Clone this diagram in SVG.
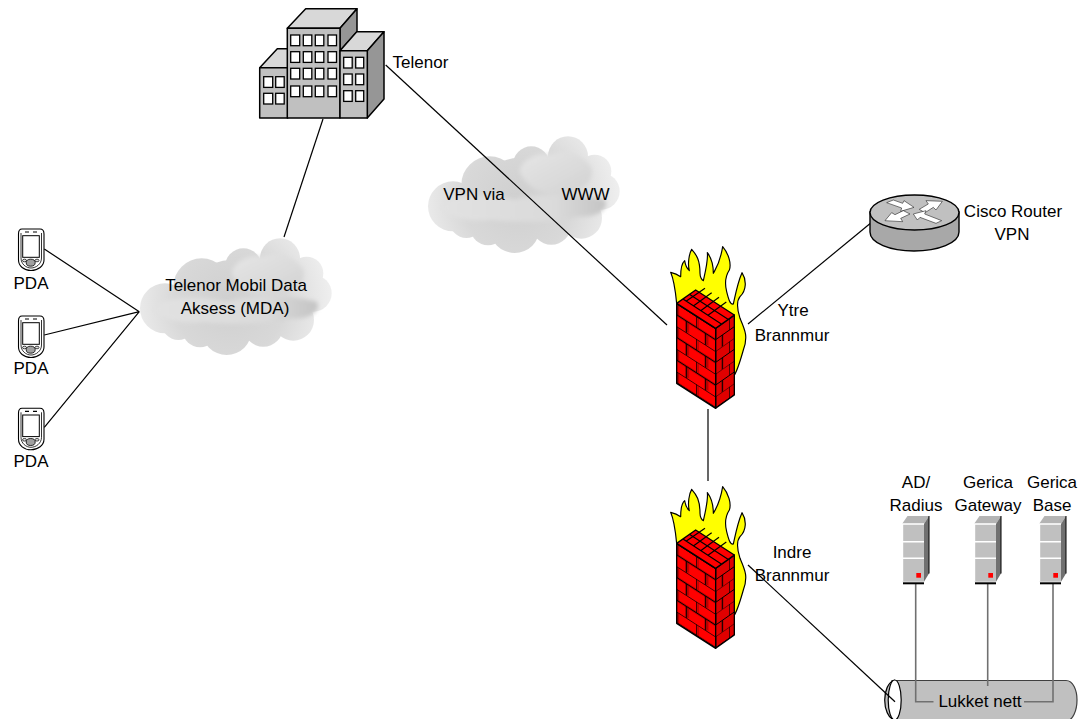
<svg xmlns="http://www.w3.org/2000/svg" width="1083" height="719" viewBox="0 0 1083 719">
<style>
text{font-family:"Liberation Sans",Arial,sans-serif;font-size:17px;fill:#000;text-anchor:middle}
.c{fill:none;stroke:#000;stroke-width:1.2}
.g{fill:none;stroke:#707070;stroke-width:1.6}
.k{stroke:#000;stroke-width:1.5;stroke-linejoin:round}
.w{fill:#fff;stroke:#000;stroke-width:1.3}
</style>
<defs>
<radialGradient id="cg" gradientUnits="userSpaceOnUse" cx="300" cy="215" r="300"><stop offset="0" stop-color="#cfcfcf"/><stop offset=".55" stop-color="#d8d8d8"/><stop offset="1" stop-color="#eeeeee"/></radialGradient>
<linearGradient id="cu" x1="0" y1="0" x2="1" y2="1"><stop offset="0" stop-color="#e6e6e6"/><stop offset="1" stop-color="#d2d2d2"/></linearGradient>
<linearGradient id="cl" x1="0" y1="0" x2="1" y2="0"><stop offset="0" stop-color="#e2e2e2"/><stop offset=".7" stop-color="#dadada"/><stop offset="1" stop-color="#c4c4c4"/></linearGradient>
<filter id="b" x="-20%" y="-20%" width="140%" height="140%"><feGaussianBlur stdDeviation="6"/></filter>
<g id="cloud" transform="translate(130,230) scale(.33333)">
<g fill="url(#cg)"><circle cx="105" cy="235" r="75"/><circle cx="215" cy="170" r="85"/><circle cx="340" cy="110" r="55"/><circle cx="450" cy="85" r="60"/><circle cx="530" cy="130" r="50"/><circle cx="550" cy="190" r="55"/><circle cx="490" cy="270" r="62"/><circle cx="290" cy="300" r="75"/><circle cx="145" cy="280" r="50"/><circle cx="210" cy="300" r="52"/><circle cx="400" cy="290" r="60"/><circle cx="300" cy="200" r="110"/><circle cx="430" cy="190" r="90"/></g>
<g filter="url(#b)"><path fill="url(#cu)" d="M305,130C310,95 360,70 400,80C440,60 500,85 520,120C530,160 490,190 440,190C390,205 330,190 305,130Z"/>
<path fill="url(#cl)" d="M65,235C100,200 200,195 290,215C340,200 460,190 560,215C575,240 540,270 480,265C400,285 300,285 220,275C150,285 80,265 65,235Z"/></g>
</g>
<pattern id="bl" patternUnits="userSpaceOnUse" width="58" height="68" patternTransform="skewY(32.7) translate(80,139)"><rect width="58" height="68" fill="#f00"/><path d="M0,0H58M0,34H58M0,0V34M29,34V68" stroke="#000" stroke-width="4" fill="none"/><path d="M6,2V32M35,36V66" stroke="#900" stroke-width="3"/></pattern>
<pattern id="br" patternUnits="userSpaceOnUse" width="40" height="68" patternTransform="skewY(-35) translate(197,403)"><rect width="40" height="68" fill="#e00000"/><path d="M0,0H40M0,34H40M0,0V34M20,34V68" stroke="#000" stroke-width="3.5" fill="none"/></pattern>
<g id="fw" transform="translate(650,240) scale(.33333)">
<path fill="#ff0" stroke="#000" stroke-width="3.5" stroke-linejoin="round" d="M80,190C76,150 72,120 62,97C75,100 85,105 92,110C92,90 95,70 104,62C106,75 110,85 118,92C112,70 118,40 125,28C140,45 150,60 150,100C150,110 155,120 160,122C165,100 175,60 172,38C185,55 190,75 190,100C198,85 210,70 218,20C235,40 245,70 238,90C225,110 225,135 230,155C235,175 240,195 250,192C255,170 262,130 276,98C290,120 290,150 270,170C258,185 262,210 270,235C285,270 295,290 280,330C270,365 262,395 250,410L80,300Z"/>
<path fill="url(#bl)" stroke="#000" stroke-width="4" stroke-linejoin="round" d="M80,190L197,265V505L80,430Z"/>
<path fill="url(#br)" stroke="#000" stroke-width="4" stroke-linejoin="round" d="M197,265L253,225V465L197,505Z"/>
<path fill="#f00" stroke="#000" stroke-width="4" stroke-linejoin="round" d="M80,190L137,150L253,225L197,265Z"/>
<path fill="none" stroke="#000" stroke-width="3.5" d="M99,177L214,252M118,163L234,238M108,184L165,145M130,198L185,158M152,212L207,172M174,226L229,186"/>
</g>
<g id="pda"><path d="M22,229H40C42.5,229 44,231 44,234V260C44,266 38,270.5 31,270.5C24,270.5 18.5,266 18.5,260V234C18.5,231 20,229 22,229Z" fill="#fff" stroke="#000" stroke-width="1.1"/><path d="M21,233V258C21,264 26,268 31,268C36,268 41.5,264 41.5,258V233" fill="none" stroke="#000" stroke-width=".8"/><rect x="22.7" y="235.7" width="16.6" height="21.6" fill="#fff" stroke="#000" stroke-width="1"/><ellipse cx="24.5" cy="260.5" rx="2" ry="1.3" fill="#ddd" stroke="#000" stroke-width=".7"/><ellipse cx="37" cy="260.5" rx="2" ry="1.3" fill="#ddd" stroke="#000" stroke-width=".7"/><ellipse cx="30.7" cy="262.7" rx="4.5" ry="3.5" fill="#a0a0a0" stroke="#000" stroke-width=".8"/><path d="M25,232h4M33,232h4" stroke="#000" stroke-width="1.2"/></g>
<g id="srv"><path d="M902,524L907.5,516H929L924,524Z" fill="#b4b4b4"/><path d="M924,524L929,516V573.5L924,581.7Z" fill="#707070"/><path d="M929,516V573.5" stroke="#000" stroke-width="1"/><rect x="902" y="524" width="22" height="57.7" fill="#c0c0c0"/><path d="M902,524H924M902,541.7H924M902,558.3H924M902.5,524V581.7" stroke="#fff" stroke-width="1.4"/><rect x="903" y="582.3" width="21" height="2" fill="#000"/><rect x="916.3" y="573" width="4.7" height="4.7" fill="#f00"/></g>
</defs>

<g id="cloud-mda"><use href="#cloud"/></g>
<g id="cloud-vpn"><use href="#cloud" transform="translate(288,-102)"/></g>

<g id="tube-node"><path d="M892,680.5H1066C1073,680.5 1077,690 1077,700C1077,710 1073,721 1066,721H892Z" fill="#c0c0c0" stroke="#404040" stroke-width="1.2"/><path d="M894.7,680C888,682 884.7,691 884.7,700C884.7,709 888,718 894.7,720" fill="#c0c0c0" stroke="#000" stroke-width="1.2"/><ellipse cx="894.7" cy="700" rx="6.5" ry="20" fill="#fff" stroke="#000" stroke-width="1.2"/></g>

<g id="connectors">
<path class="c" d="M44.3,249L139.3,311.7M44.3,335L139.3,311.7M44.3,427.3L139.3,311.7"/>
<path class="c" d="M323,119L284,237"/>
<path class="c" d="M385.7,65L667,325"/>
<path class="c" d="M748,324L872,222"/>
<path class="c" d="M708,409V481"/>
<path class="c" d="M748,565L895,701.7"/>
<path class="g" d="M915.7,584V701.7H933.5"/>
<path class="g" d="M987.7,584V686"/>
<path class="g" d="M1053,584V701.7H1024"/>
</g>

<g id="building">
<path class="k" fill="#d8d8d8" d="M259.7,67.7L277.3,48.7H295V67.7Z"/>
<rect class="k" fill="#c0c0c0" x="259.7" y="67.7" width="28" height="50.3"/>
<path class="k" fill="#d8d8d8" d="M287.3,28.3L305.7,8.7H357L340,28.3Z"/>
<path class="k" fill="#969696" d="M340,28.3L357,8.7V31.7L340,50.7Z"/>
<rect class="k" fill="#c0c0c0" x="287.3" y="28.3" width="52.7" height="89.7"/>
<path class="k" fill="#d8d8d8" d="M340,50.7L356.7,31.7H384L367.3,50.7Z"/>
<path class="k" fill="#969696" d="M367.3,50.7L384,31.7V99L367.3,118Z"/>
<rect class="k" fill="#c0c0c0" x="340" y="50.7" width="27.3" height="67.3"/>
<g class="w"><rect x="263.7" y="76.7" width="9" height="10.7"/><rect x="275.7" y="76.7" width="8.5" height="10.7"/><rect x="263.7" y="93.3" width="9" height="10.7"/><rect x="275.7" y="93.3" width="8.5" height="10.7"/>
<rect x="290.7" y="35" width="9" height="10.7"/><rect x="303.3" y="35" width="8.5" height="10.7"/><rect x="315.3" y="35" width="8.5" height="10.7"/><rect x="328" y="35" width="8.5" height="10.7"/>
<rect x="290.7" y="51.7" width="9" height="10.7"/><rect x="303.3" y="51.7" width="8.5" height="10.7"/><rect x="315.3" y="51.7" width="8.5" height="10.7"/><rect x="328" y="51.7" width="8.5" height="10.7"/>
<rect x="290.7" y="68.3" width="9" height="10.7"/><rect x="303.3" y="68.3" width="8.5" height="10.7"/><rect x="315.3" y="68.3" width="8.5" height="10.7"/><rect x="328" y="68.3" width="8.5" height="10.7"/>
<rect x="290.7" y="86" width="9" height="10.7"/><rect x="303.3" y="86" width="8.5" height="10.7"/><rect x="315.3" y="86" width="8.5" height="10.7"/><rect x="328" y="86" width="8.5" height="10.7"/>
<rect x="343.7" y="57.3" width="8.5" height="10.7"/><rect x="355.7" y="57.3" width="8" height="10.7"/><rect x="343.7" y="74" width="8.5" height="10.7"/><rect x="355.7" y="74" width="8" height="10.7"/><rect x="343.7" y="90.7" width="8.5" height="10.7"/><rect x="355.7" y="90.7" width="8" height="10.7"/></g>
</g>

<g id="firewall-ytre"><use href="#fw"/></g>
<g id="firewall-indre"><use href="#fw" transform="translate(0,240)"/></g>

<g id="router">
<path d="M870,212V232C870,243 890,251 914,251C938,251 959,243 959,232V212Z" fill="#a8a8a8" stroke="#000" stroke-width="1.4"/>
<ellipse cx="914.5" cy="212.5" rx="44.5" ry="17.5" fill="#c0c0c0" stroke="#000" stroke-width="1.4"/>
<g transform="translate(860,180) scale(.33333)" fill="#fff" stroke="#000" stroke-width="1.5" stroke-linejoin="round"><path d="M80,68L100,60L128,70L132,62L162,82L122,94L125,84Z"/><path d="M178,88L205,72L198,62L247,64L228,90L220,82L195,98Z"/><path d="M130,92L150,102L122,115L128,125L75,122L95,98L105,104Z"/><path d="M160,102L198,92L194,102L245,122L228,130L180,112L172,120Z"/></g>
</g>

<g id="pda1"><use href="#pda"/></g>
<g id="pda2"><use href="#pda" transform="translate(0,87)"/></g>
<g id="pda3"><use href="#pda" transform="translate(0,179.3)"/></g>

<g id="srv1"><use href="#srv"/></g>
<g id="srv2"><use href="#srv" transform="translate(72,0)"/></g>
<g id="srv3"><use href="#srv" transform="translate(137,0)"/></g>

<g id="labels">
<text x="420.5" y="68">Telenor</text>
<text x="31" y="288.5">PDA</text><text x="31" y="374">PDA</text><text x="31" y="467">PDA</text>
<text x="236" y="291">Telenor Mobil Data</text><text x="235" y="314">Aksess (MDA)</text>
<text x="474" y="200">VPN via</text><text x="585.5" y="200">WWW</text>
<text x="1013" y="217">Cisco Router</text><text x="1012" y="240">VPN</text>
<text x="793" y="316">Ytre</text><text x="792" y="341">Brannmur</text>
<text x="792" y="558">Indre</text><text x="792" y="581">Brannmur</text>
<text x="916" y="488">AD/</text><text x="916" y="511">Radius</text>
<text x="988" y="488">Gerica</text><text x="988" y="511">Gateway</text>
<text x="1052" y="488">Gerica</text><text x="1052" y="511">Base</text>
<text x="980" y="707">Lukket nett</text>
</g>
</svg>
